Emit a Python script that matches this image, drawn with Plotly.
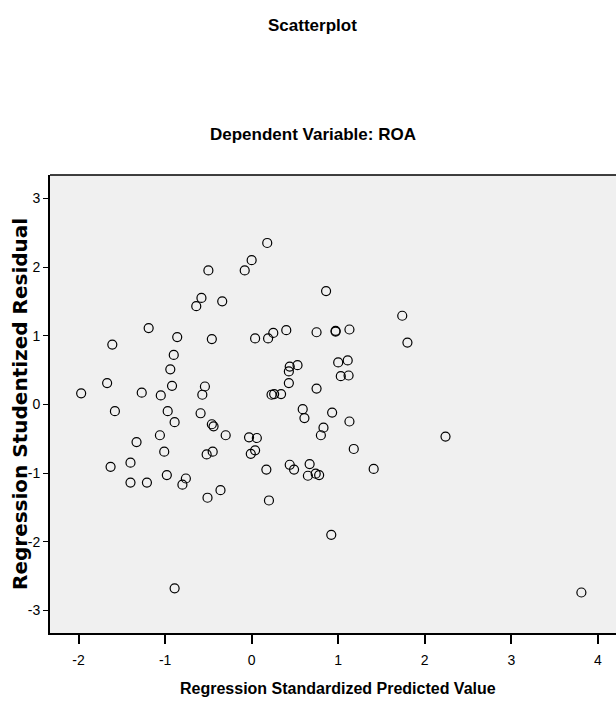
import plotly.graph_objects as go

# Regression Standardized Predicted Value (x) and Regression Studentized Residual (y)
pred_x = [-0.50, -0.08, 0.00, -0.58, -0.64, -0.34, -1.19, -0.86, -0.46, 0.04,
          -1.61, -0.90, -0.94, -1.67, -0.92, -0.54, -1.97, -1.27, -1.05, -0.57,
          0.18, 0.86, 1.74, 1.80, 0.19, 0.25, 0.40, 0.75, 0.97, 0.97,
          1.13, 0.44, 0.43, 0.53, 1.00, 1.11, 1.03, 1.12, 0.43, 0.75,
          0.23, 0.26, 0.34, -1.58, -0.97, -0.89, -0.59, -0.46, -0.44, -0.30,
          -0.03, 0.06, -1.06, -1.33, -1.01, -0.52, -0.45, -0.01, 0.04, -1.40,
          -1.63, -1.40, -1.21, -0.98, -0.80, -0.76, -0.51, -0.36, 0.59, 0.61,
          0.93, 1.13, 0.83, 0.80, 1.18, 2.24, 0.17, 0.44, 0.49, 0.67,
          0.65, 0.74, 0.78, 1.41, 0.20, 0.92, 3.81, -0.89]
resid_y = [1.95, 1.95, 2.10, 1.55, 1.43, 1.50, 1.11, 0.98, 0.95, 0.96,
           0.87, 0.72, 0.51, 0.31, 0.27, 0.26, 0.16, 0.17, 0.13, 0.14,
           2.35, 1.65, 1.29, 0.90, 0.96, 1.04, 1.08, 1.05, 1.07, 1.06,
           1.09, 0.55, 0.48, 0.57, 0.61, 0.64, 0.41, 0.42, 0.31, 0.23,
           0.14, 0.15, 0.15, -0.10, -0.10, -0.26, -0.13, -0.29, -0.32, -0.45,
           -0.48, -0.49, -0.45, -0.55, -0.69, -0.73, -0.69, -0.72, -0.67, -0.85,
           -0.91, -1.14, -1.14, -1.03, -1.17, -1.08, -1.36, -1.25, -0.07, -0.20,
           -0.12, -0.25, -0.34, -0.45, -0.65, -0.47, -0.95, -0.88, -0.95, -0.87,
           -1.04, -1.01, -1.03, -0.94, -1.40, -1.90, -2.74, -2.68]

x_ticks = [-2, -1, 0, 1, 2, 3, 4]
y_ticks = [-3, -2, -1, 0, 1, 2, 3]

SANS = "Liberation Sans, Arial, sans-serif"

fig = go.Figure()
fig.add_trace(go.Scatter(
    x=pred_x, y=resid_y, mode="markers",
    marker=dict(symbol="circle-open", size=9, color="black", line=dict(width=1.2, color="black")),
    showlegend=False, hoverinfo="x+y",
))

fig.update_layout(
    width=616, height=703,
    margin=dict(l=50, r=0, t=175, b=70),
    paper_bgcolor="white",
    plot_bgcolor="#f0f0f0",
    xaxis=dict(
        range=[-2.33, 4.21], tickvals=x_ticks, ticktext=[str(v) for v in x_ticks],
        showgrid=False, zeroline=False, showline=True, linecolor="black", linewidth=2,
        ticks="outside", ticklen=9, tickwidth=1.5, tickcolor="black",
        ticklabelstandoff=4,
        tickfont=dict(family=SANS, size=14, color="black"),
    ),
    yaxis=dict(
        range=[-3.33, 3.34], tickvals=y_ticks, ticktext=[str(v) for v in y_ticks],
        showgrid=False, zeroline=False, showline=True, linecolor="black", linewidth=2,
        ticks="outside", ticklen=5, tickwidth=1, tickcolor="black",
        tickfont=dict(family=SANS, size=14, color="black"),
    ),
    shapes=[dict(type="line", xref="x domain", yref="y domain", x0=0, x1=1, y0=1, y1=1,
                 line=dict(color="black", width=1.5))],
    annotations=[
        dict(text="<b>Scatterplot</b>", xref="paper", yref="paper", x=0.4638, y=1.3275,
             showarrow=False, xanchor="center", yanchor="middle",
             font=dict(family=SANS, size=17, color="black")),
        dict(text="<b>Dependent Variable: ROA</b>", xref="paper", yref="paper", x=0.4647, y=1.0895,
             showarrow=False, xanchor="center", yanchor="middle",
             font=dict(family=SANS, size=17, color="black")),
        dict(text="<b>Regression Standardized Predicted Value</b>", xref="paper", yref="paper",
             x=0.5088, y=-0.122, showarrow=False, xanchor="center", yanchor="middle",
             font=dict(family=SANS, size=16, color="black")),
        dict(text="<b>Regression Studentized Residual</b>", xref="paper", yref="paper",
             x=(20 - 50) / 566, y=0.5, textangle=-90, showarrow=False,
             xanchor="center", yanchor="middle",
             font=dict(family="DejaVu Sans, sans-serif", size=20, color="black")),
    ],
)

fig.write_html(
    "out.html",
    config={"displayModeBar": False},
    post_script="document.body.style.margin='0px';document.body.style.overflow='hidden';",
)
